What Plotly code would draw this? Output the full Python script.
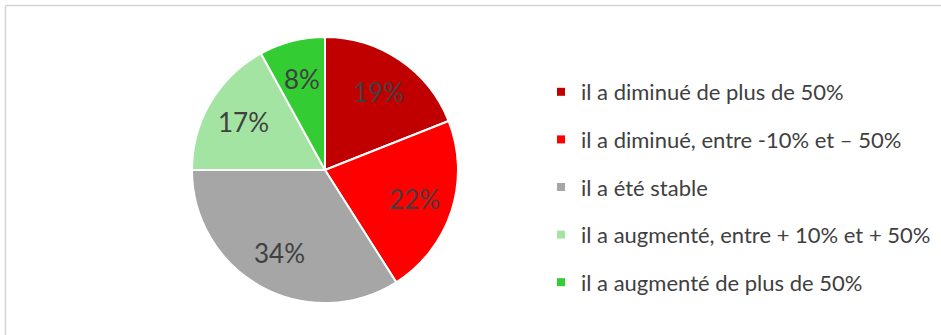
import math
import plotly.graph_objects as go

# Évolution déclarée (répartition en %)
labels = [
    "il a diminué de plus de 50%",
    "il a diminué, entre -10% et – 50%",
    "il a été stable",
    "il a augmenté, entre + 10% et + 50%",
    "il a augmenté de plus de 50%",
]
values = [19, 22, 34, 17, 8]
colors = ["#C00000", "#FF0000", "#A6A6A6", "#A3E4A3", "#33CC33"]

W, H = 941, 335
FONT = "Lato, Calibri, sans-serif"
TEXT = "#404040"

# Disque du camembert (en pixels)
CX, CY, R = 325, 170, 133

fig = go.Figure()

fig.add_trace(go.Pie(
    labels=labels,
    values=values,
    sort=False,
    direction="clockwise",
    rotation=0,
    marker=dict(colors=colors, line=dict(color="white", width=2)),
    textinfo="none",
    showlegend=False,
    hoverinfo="label+percent",
    domain=dict(x=[(CX - R) / W, (CX + R) / W], y=[1 - (CY + R) / H, 1 - (CY - R) / H]),
))

# Étiquettes de valeur placées au milieu angulaire de chaque secteur
total = sum(values)
cum = 0
annotations = []
for v in values:
    mid = (cum + v / 2) / total * 2 * math.pi
    cum += v
    rr = 0.71 * R
    px = CX + rr * math.sin(mid)
    py = CY - rr * math.cos(mid)
    annotations.append(dict(
        x=px / W, y=1 - py / H, xref="paper", yref="paper",
        text=f"{v}%", showarrow=False,
        font=dict(family=FONT, size=26, color=TEXT),
        xanchor="center", yanchor="middle",
    ))

# Légende : une entrée par catégorie
for i, (lab, col) in enumerate(zip(labels, colors)):
    fig.add_trace(go.Scatter(
        x=[None], y=[None], mode="markers", name=lab,
        marker=dict(symbol="square", size=8, color=col),
        legendgroup=f"g{i}", showlegend=True, hoverinfo="skip",
    ))

fig.update_layout(
    width=W, height=H,
    autosize=False,
    margin=dict(l=0, r=0, t=0, b=0),
    paper_bgcolor="white",
    plot_bgcolor="white",
    xaxis=dict(visible=False),
    yaxis=dict(visible=False),
    font=dict(family=FONT, color=TEXT),
    annotations=annotations,
    legend=dict(
        x=541 / W, y=1 - 71 / H,
        xanchor="left", yanchor="top",
        font=dict(family=FONT, size=22, color=TEXT),
        tracegroupgap=16,
        itemwidth=30,
        bgcolor="rgba(0,0,0,0)",
    ),
    shapes=[
        dict(type="line", xref="paper", yref="paper",
             x0=5.5 / W, x1=1, y0=1 - 5.5 / H, y1=1 - 5.5 / H,
             line=dict(color="#D4D4D4", width=1.5)),
        dict(type="line", xref="paper", yref="paper",
             x0=5.5 / W, x1=5.5 / W, y0=0, y1=1 - 5.5 / H,
             line=dict(color="#D4D4D4", width=1.5)),
    ],
)

fig.write_html("out.html")
